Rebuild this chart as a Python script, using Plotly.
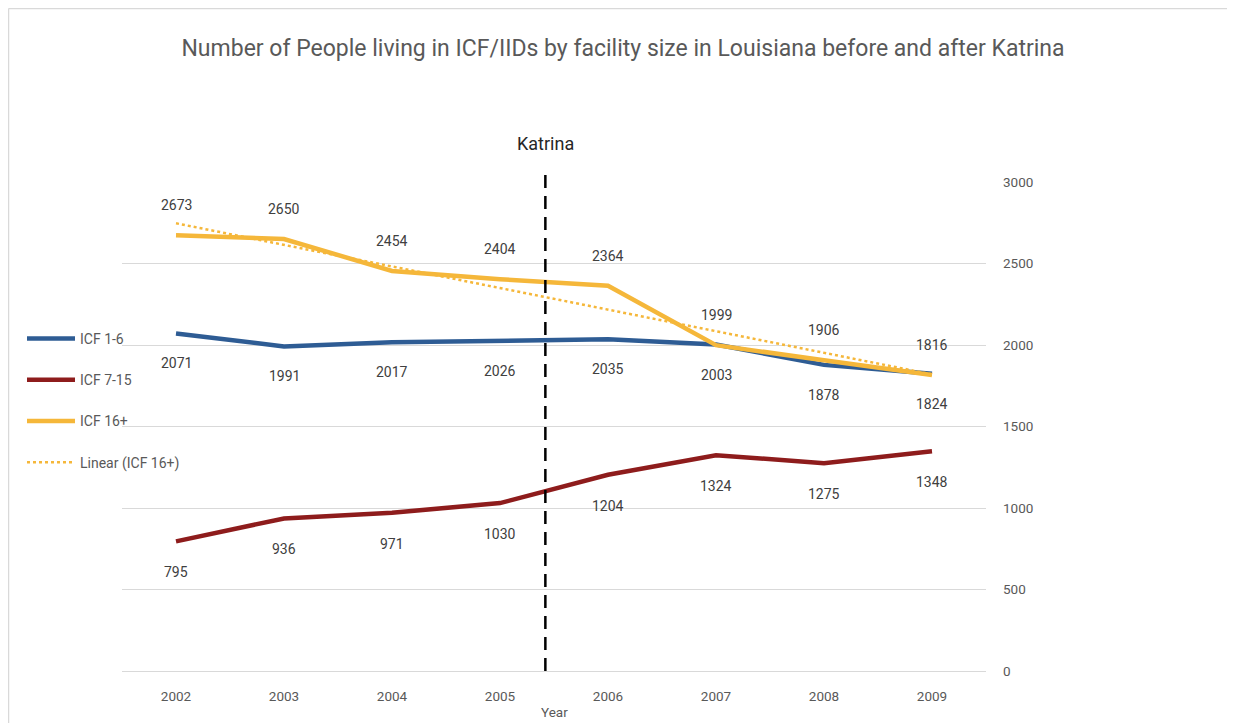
import numpy as np
import plotly.graph_objects as go

# ---- data ----
years = ["2002", "2003", "2004", "2005", "2006", "2007", "2008", "2009"]
icf_1_6 = [2071, 1991, 2017, 2026, 2035, 2003, 1878, 1824]
icf_7_15 = [795, 936, 971, 1030, 1204, 1324, 1275, 1348]
icf_16p = [2673, 2650, 2454, 2404, 2364, 1999, 1906, 1816]
y_ticks = [0, 500, 1000, 1500, 2000, 2500, 3000]

# Excel-style "Linear" trendline: least-squares fit of the ICF 16+ series
_idx = np.arange(len(icf_16p))
_slope, _intercept = np.polyfit(_idx, icf_16p, 1)
trend_16p = list(_slope * _idx + _intercept)

katrina_pos = 3.42   # between 2005 and 2006 on the category axis

FONT = "Roboto"
BLUE = "#2E5C94"
RED = "#8E1C1C"
YELLOW = "#F5B73A"
GRID = "#D9D9D9"
TXT = "#595959"
LBL = "#404040"

# plot area geometry (figure pixels)
L, T, PW, PH = 114, 174, 864, 489
W, H = 1235, 723


def px(xp):  # figure pixel x -> paper x
    return (xp - L) / PW


def py(yp):  # figure pixel y -> paper y
    return (T + PH - yp) / PH


fig = go.Figure()

series = [
    ("ICF 1-6", icf_1_6, BLUE, -30),
    ("ICF 7-15", icf_7_15, RED, -31),
    ("ICF 16+", icf_16p, YELLOW, 30),
]
for i, (name, vals, col, shift) in enumerate(series):
    fig.add_trace(go.Scatter(
        x=years, y=vals, name=name, mode="lines",
        line=dict(color=col, width=4.5), legendgroup=f"g{i}"))
    for k, v in enumerate(vals):
        fig.add_annotation(x=k, y=v, xref="x", yref="y", text=str(v),
                           showarrow=False, yshift=shift,
                           font=dict(family=FONT, size=14, color=LBL))

fig.add_trace(go.Scatter(
    x=years, y=trend_16p, name="Linear (ICF 16+)", mode="lines",
    line=dict(color=YELLOW, width=2.5, dash="dot"), legendgroup="g3"))

# Katrina marker
fig.add_shape(type="line", xref="x", yref="paper", x0=katrina_pos, x1=katrina_pos,
              y0=0, y1=py(166),
              line=dict(color="black", width=2.5, dash="13px,8px"))
fig.add_annotation(x=katrina_pos, y=py(135), xref="x", yref="paper",
                   yanchor="middle", xanchor="center",
                   text="Katrina", showarrow=False,
                   font=dict(family=FONT, size=18, color="#262626"))

# x-axis title
fig.add_annotation(x=0.5, y=py(704), xref="paper", yref="paper",
                   yanchor="middle", xanchor="center",
                   text="Year", showarrow=False,
                   font=dict(family=FONT, size=13.5, color=TXT))

# outer frame (top and left edges)
fig.add_shape(type="line", xref="paper", yref="paper",
              x0=px(0.5), x1=px(W + 10), y0=py(0.5), y1=py(0.5),
              line=dict(color=GRID, width=1.5))
fig.add_shape(type="line", xref="paper", yref="paper",
              x0=px(0.5), x1=px(0.5), y0=py(0.5), y1=py(H + 10),
              line=dict(color=GRID, width=1.5))

fig.update_layout(
    width=W, height=H,
    margin=dict(l=L, r=W - L - PW, t=T, b=H - T - PH, autoexpand=False),
    paper_bgcolor="white", plot_bgcolor="white",
    title=dict(text="Number of People living in ICF/IIDs by facility size in Louisiana before and after Katrina",
               x=615 / W, xanchor="center", y=1 - 40 / H, yanchor="middle",
               font=dict(family=FONT, size=23, color=TXT)),
    showlegend=True,
    legend=dict(x=px(14), xanchor="left", y=py(315), yanchor="top",
                font=dict(family=FONT, size=14, color=TXT),
                itemwidth=48, tracegroupgap=20, bgcolor="rgba(0,0,0,0)"),
    xaxis=dict(type="category", range=[-0.5, 7.5], showgrid=False, automargin=False,
               showline=True, linecolor=GRID, linewidth=1, ticks="",
               tickfont=dict(family=FONT, size=13.5, color=TXT),
               ticklabelstandoff=13),
    yaxis=dict(range=[0, 3000], tickvals=y_ticks, side="right", automargin=False,
               showgrid=True, gridcolor=GRID, gridwidth=1, zeroline=False,
               showline=False, ticks="",
               tickfont=dict(family=FONT, size=13.5, color=TXT),
               ticklabelstandoff=16),
)

fig.write_html("out.html")
